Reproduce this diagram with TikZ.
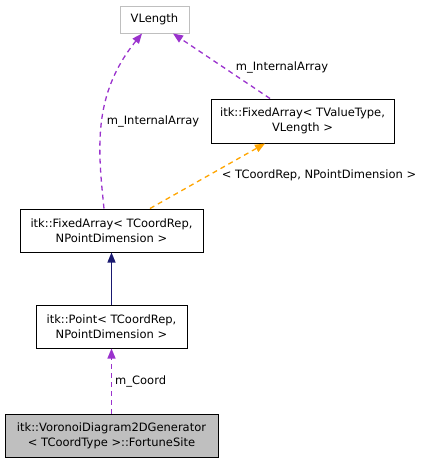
\documentclass[tikz,border=0pt]{standalone}
\usepackage{fontspec}
\setmainfont{DejaVu Sans}
\usetikzlibrary{arrows.meta}
\definecolor{edgepurple}{HTML}{9A32CD}
\definecolor{edgeorange}{HTML}{FFA500}
\definecolor{edgenavy}{HTML}{191970}
\definecolor{boxgray}{HTML}{BFBFBF}
\tikzset{
  cls/.style={draw=black, line width=1pt, rectangle, inner sep=0pt, align=center, font=\fontsize{11.5}{15}\selectfont},
  lbl/.style={inner sep=0pt, font=\fontsize{11.5}{15}\selectfont},
  tip/.style={-{Triangle[length=10pt,width=8pt]}},
  usage/.style={tip, color=edgepurple, line width=1.3pt, dash pattern=on 5pt off 4pt},
  tmpl/.style={tip, color=edgeorange, line width=1.3pt, dash pattern=on 5pt off 4pt},
  inherit/.style={tip, color=edgenavy, line width=1.2pt},
}
\begin{document}
\begin{tikzpicture}[x=1pt,y=-1pt]
\useasboundingbox (0,0) rectangle (423,464);
\node[cls, draw=boxgray, minimum width=69pt, minimum height=27pt] (vlen) at (154.5,19.5) {VLength};
\node[cls, minimum width=183pt, minimum height=44pt] (fa2) at (302.5,121) {itk::FixedArray< TValueType,\\VLength >};
\node[cls, minimum width=183pt, minimum height=43pt] (fa1) at (111.5,230.5) {itk::FixedArray< TCoordRep,\\NPointDimension >};
\node[cls, minimum width=151pt, minimum height=43pt] (pt) at (111.5,326.5) {itk::Point< TCoordRep,\\NPointDimension >};
\node[cls, fill=boxgray, minimum width=213pt, minimum height=43pt] (fs) at (111.5,435.5) {itk::VoronoiDiagram2DGenerator\\< TCoordType >::FortuneSite};

\draw[usage] (fs.north) -- (pt.south);
\node[lbl, anchor=west] (lc) at (115,381) {m\_Coord};
\draw[inherit] (pt.north) -- (fa1.south);
\draw[tmpl] (fa1.north -| 150,0) -- (fa2.south -| 265,0);
\node[lbl] (lt) at (319,175) {< TCoordRep, NPointDimension >};
\draw[usage] (fa1.north -| 104,0) .. controls (98,150) and (92,95) .. (vlen.south -| 142,0);
\node[lbl] (l1) at (153,121) {m\_InternalArray};
\draw[usage] (fa2.north -| 270,0) -- (vlen.south -| 173,0);
\node[lbl] (l2) at (282,67) {m\_InternalArray};
\end{tikzpicture}
\end{document}
